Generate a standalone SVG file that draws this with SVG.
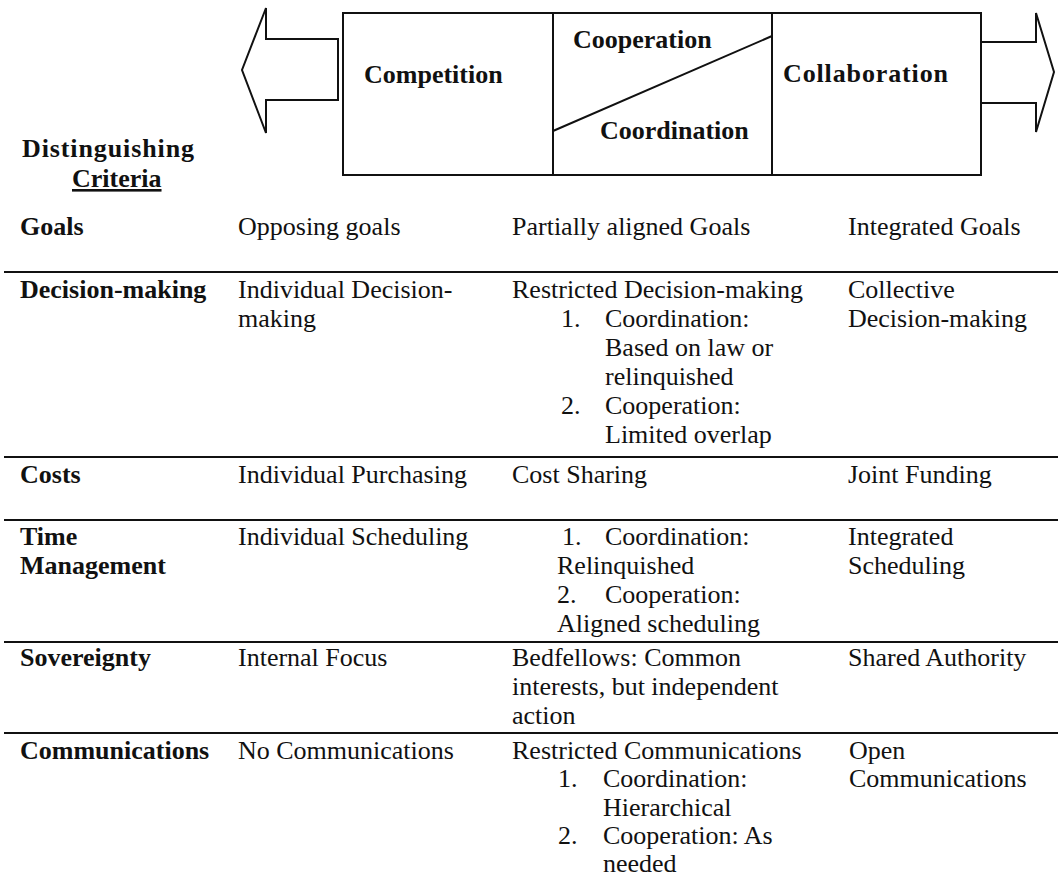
<svg xmlns="http://www.w3.org/2000/svg" width="1058" height="886" viewBox="0 0 1058 886">
<style>
text{font-family:"Liberation Serif","Times New Roman",serif;font-size:26px;fill:#111}
.b{font-weight:bold}
.ln{stroke:#111;stroke-width:2;fill:none}
.rule{stroke:#111;stroke-width:2}
</style>
<rect width="1058" height="886" fill="#fff"/>
<g id="connectors">
<polygon class="ln" points="338,39 266,39 266,8 242,70 266,133 266,100 338,100"/>
<polyline class="ln" points="982,42 1036,42 1036,13 1054,72 1036,132 1036,103 982,103"/>
</g>
<g id="spectrum">
<rect class="ln" x="343" y="13" width="638" height="162"/>
<line class="ln" x1="553" y1="13" x2="553" y2="175"/>
<line class="ln" x1="772" y1="13" x2="772" y2="175"/>
<line class="ln" x1="553" y1="131" x2="772" y2="36"/>
</g>
<g id="competition"><text class="b" x="364" y="83">Competition</text></g>
<g id="cooperation"><text class="b" x="573" y="48">Cooperation</text></g>
<g id="coordination"><text class="b" x="600" y="139">Coordination</text></g>
<g id="collaboration"><text class="b" x="783" y="82" textLength="165">Collaboration</text></g>
<g id="criteria-header">
<text class="b" x="22" y="157" textLength="172">Distinguishing</text>
<text class="b" x="72" y="187" text-decoration="underline">Criteria</text>
</g>
<g id="rules">
<line class="rule" x1="4" y1="272" x2="1058" y2="272"/>
<line class="rule" x1="4" y1="457" x2="1058" y2="457"/>
<line class="rule" x1="4" y1="520" x2="1058" y2="520"/>
<line class="rule" x1="4" y1="642" x2="1058" y2="642"/>
<line class="rule" x1="4" y1="733" x2="1058" y2="733"/>
</g>
<g id="row-goals">
<text class="b" x="20" y="235">Goals</text>
<text x="238" y="235">Opposing goals</text>
<text x="512" y="235">Partially aligned Goals</text>
<text x="848" y="235">Integrated Goals</text>
</g>
<g id="row-decision">
<text class="b" x="20" y="298">Decision-making</text>
<text x="238" y="298">Individual Decision-</text>
<text x="238" y="327">making</text>
<text x="512" y="298">Restricted Decision-making</text>
<text x="561" y="327">1.</text><text x="605" y="327">Coordination:</text>
<text x="605" y="356">Based on law or</text>
<text x="605" y="385">relinquished</text>
<text x="561" y="414">2.</text><text x="605" y="414">Cooperation:</text>
<text x="605" y="443">Limited overlap</text>
<text x="848" y="298">Collective</text>
<text x="848" y="327">Decision-making</text>
</g>
<g id="row-costs">
<text class="b" x="20" y="483">Costs</text>
<text x="238" y="483">Individual Purchasing</text>
<text x="512" y="483">Cost Sharing</text>
<text x="848" y="483">Joint Funding</text>
</g>
<g id="row-time">
<text class="b" x="20" y="545">Time</text>
<text class="b" x="20" y="574">Management</text>
<text x="238" y="545">Individual Scheduling</text>
<text x="562" y="545">1.</text><text x="605" y="545">Coordination:</text>
<text x="557" y="574">Relinquished</text>
<text x="557" y="603">2.</text><text x="605" y="603">Cooperation:</text>
<text x="557" y="632">Aligned scheduling</text>
<text x="848" y="545">Integrated</text>
<text x="848" y="574">Scheduling</text>
</g>
<g id="row-sovereignty">
<text class="b" x="20" y="666">Sovereignty</text>
<text x="238" y="666">Internal Focus</text>
<text x="512" y="666">Bedfellows: Common</text>
<text x="512" y="695">interests, but independent</text>
<text x="512" y="724">action</text>
<text x="848" y="666">Shared Authority</text>
</g>
<g id="row-communications">
<text class="b" x="20" y="759">Communications</text>
<text x="238" y="759">No Communications</text>
<text x="512" y="759">Restricted Communications</text>
<text x="558" y="787">1.</text><text x="603" y="787">Coordination:</text>
<text x="603" y="816">Hierarchical</text>
<text x="558" y="844">2.</text><text x="603" y="844">Cooperation: As</text>
<text x="603" y="872">needed</text>
<text x="849" y="759">Open</text>
<text x="849" y="787">Communications</text>
</g>
</svg>
